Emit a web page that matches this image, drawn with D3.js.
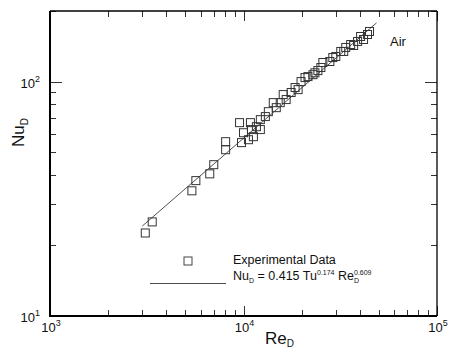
<!DOCTYPE html>
<html>
<head>
<meta charset="utf-8">
<script src="https://cdn.jsdelivr.net/npm/d3@7"></script>
<style>
  body { margin: 0; background: #fff; }
  svg { display: block; font-family: "Liberation Sans", Arial, sans-serif; }
</style>
</head>
<body>
<div id="chart"></div>
<script>
const reData = [3107, 3375, 5412, 5673, 6693, 7020, 8085, 8085, 9540, 9765,
  10000, 10990, 10860, 11250, 11660, 12220, 12970, 13440, 14250, 14770,
  15480, 16610, 17630, 19150, 19830, 21540, 23390, 25120, 25720, 27940,
  29990, 31810, 33750, 35800, 38880, 40290, 43750, 44800,
  10607, 12220, 16040, 18480, 20790, 22860, 24240, 28940, 32960, 37090, 41730];
const nuData = [22.6, 25.2, 34.2, 37.8, 40.4, 44.2, 51.2, 55.4, 66.8, 54.9,
  60.5, 62.4, 66.8, 58.2, 64.2, 68.8, 70.9, 74.4, 81.3, 77.4,
  81.3, 83.8, 89.8, 92.4, 100, 105, 109, 114.8, 120.6, 121.8,
  127.9, 134.4, 139.8, 143.9, 148.3, 155.7, 158.8, 163.6,
  56.5, 62.4, 88.0, 94.3, 104, 107, 111.4, 126.6, 134.4, 142.5, 151.2];

// correlation line end points
const fitRe = [3000, 48700];
const fitNu = [24.2, 178];

const xDomain = [1e3, 1e5];
const yDomain = [10, 200];

const width = 449, height = 349;
const plot = { left: 50, right: 437, top: 11, bottom: 316 };

const svg = d3.select("#chart").append("svg")
  .attr("width", width)
  .attr("height", height);

const x = d3.scaleLog().domain(xDomain).range([plot.left, plot.right]);
const y = d3.scaleLog().domain(yDomain).range([plot.bottom, plot.top]);

const isMajor = v => Math.abs(Math.log10(v) - Math.round(Math.log10(v))) < 1e-9;

// ticks (inward on all four sides)
const ticks = svg.append("g").attr("stroke", "#333").attr("stroke-width", 1);
x.ticks().forEach(v => {
  const len = isMajor(v) ? 10 : 6;
  const px = Math.round(x(v)) + 0.5;
  ticks.append("line").attr("x1", px).attr("x2", px)
    .attr("y1", plot.bottom).attr("y2", plot.bottom - len);
  ticks.append("line").attr("x1", px).attr("x2", px)
    .attr("y1", plot.top).attr("y2", plot.top + len);
});
y.ticks().forEach(v => {
  const len = isMajor(v) ? 12 : 6;
  const py = Math.round(y(v)) + 0.5;
  ticks.append("line").attr("y1", py).attr("y2", py)
    .attr("x1", plot.left).attr("x2", plot.left + len);
  ticks.append("line").attr("y1", py).attr("y2", py)
    .attr("x1", plot.right).attr("x2", plot.right - len);
});

// frame: left/bottom a bit heavier than top/right
const frame = svg.append("g").attr("stroke", "#000");
frame.append("line").attr("x1", plot.left).attr("x2", plot.left)
  .attr("y1", plot.top).attr("y2", plot.bottom + 1).attr("stroke-width", 2);
frame.append("line").attr("x1", plot.left).attr("x2", plot.right)
  .attr("y1", plot.bottom).attr("y2", plot.bottom).attr("stroke-width", 2);
frame.append("line").attr("x1", plot.left).attr("x2", plot.right)
  .attr("y1", plot.top).attr("y2", plot.top).attr("stroke-width", 1.3);
frame.append("line").attr("x1", plot.right).attr("x2", plot.right)
  .attr("y1", plot.top).attr("y2", plot.bottom).attr("stroke-width", 1.3);

// tick labels
function powLabel(g, v, px, py, anchor) {
  const t = g.append("text")
    .attr("x", px).attr("y", py)
    .attr("text-anchor", anchor)
    .style("font-size", "13px")
    .attr("fill", "#111");
  t.append("tspan").text("10");
  t.append("tspan").attr("dy", -6).style("font-size", "9px")
    .text(Math.round(Math.log10(v)));
}
const labels = svg.append("g");
x.ticks().filter(isMajor).forEach(v => powLabel(labels, v, x(v) + 1, 332, "middle"));
y.ticks().filter(isMajor).forEach(v => powLabel(labels, v, 40, y(v) + 6, "end"));

// axis titles
const xt = svg.append("text")
  .attr("x", 265).attr("y", 344)
  .style("font-size", "17px")
  .attr("fill", "#111");
xt.append("tspan").text("Re");
xt.append("tspan").attr("dy", 3).style("font-size", "10px").text("D");

const yt = svg.append("text")
  .attr("transform", "translate(24,147) rotate(-90)")
  .style("font-size", "17px")
  .attr("fill", "#111");
yt.append("tspan").text("Nu");
yt.append("tspan").attr("dy", 4).style("font-size", "10px").text("D");

// correlation line
const line = d3.line().x(d => x(d[0])).y(d => y(d[1]));
svg.append("path")
  .datum(fitRe.map((r, i) => [r, fitNu[i]]))
  .attr("d", line)
  .attr("fill", "none")
  .attr("stroke", "#222")
  .attr("stroke-width", 0.8);

// data squares
const sq = 8;
svg.append("g").selectAll("rect")
  .data(reData.map((r, i) => [r, nuData[i]]))
  .join("rect")
  .attr("x", d => x(d[0]) - sq / 2)
  .attr("y", d => y(d[1]) - sq / 2)
  .attr("width", sq).attr("height", sq)
  .attr("fill", "none")
  .attr("stroke", "#333")
  .attr("stroke-width", 1);

// label
svg.append("text")
  .attr("x", 390).attr("y", 46)
  .style("font-size", "13px")
  .attr("fill", "#111")
  .text("Air");

// legend
const lg = svg.append("g");
lg.append("rect")
  .attr("x", 184).attr("y", 257)
  .attr("width", 8).attr("height", 8)
  .attr("fill", "none").attr("stroke", "#444");
lg.append("text")
  .attr("x", 233).attr("y", 264)
  .style("font-size", "12.5px").attr("fill", "#111")
  .text("Experimental Data");
lg.append("line")
  .attr("x1", 150).attr("x2", 226)
  .attr("y1", 283.5).attr("y2", 283.5)
  .attr("stroke", "#222").attr("stroke-width", 0.8);
const eq = lg.append("text")
  .attr("x", 233).attr("y", 280)
  .style("font-size", "12.5px").attr("fill", "#111");
eq.append("tspan").text("Nu");
eq.append("tspan").attr("dy", 3).style("font-size", "7px").text("D");
eq.append("tspan").attr("dy", -3).text(" = 0.415 Tu");
eq.append("tspan").attr("dy", -5).style("font-size", "7px").text("0.174");
eq.append("tspan").attr("dy", 5).text(" Re");
eq.append("tspan").attr("dy", 3).style("font-size", "7px").text("D");
eq.append("tspan").attr("dy", -8).attr("dx", -5).style("font-size", "7px").text("0.609");
</script>
</body>
</html>
